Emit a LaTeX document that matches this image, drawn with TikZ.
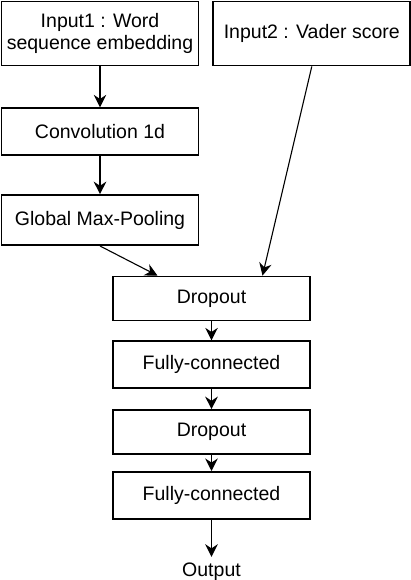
\documentclass[tikz,border=0pt]{standalone}
\usepackage{fontspec}
\setmainfont{Liberation Sans}
\usetikzlibrary{arrows.meta, positioning}

\begin{document}
\begin{tikzpicture}[
    x=1pt, y=1pt,
    node distance=20pt,
    layer/.style={rectangle, draw=black, fill=white, line width=1.8pt, minimum width=197pt, minimum height=47pt, inner sep=0pt, align=center, font=\fontsize{19.5}{22.5}\selectfont},
    label/.style={inner sep=6pt, font=\fontsize{19.5}{22.5}\selectfont},
    arrow/.style={line width=1.8pt, -{Stealth[length=12.5pt, width=12.5pt]}},
    thinarrow/.style={line width=1.1pt, -{Stealth[length=12.5pt, width=12.5pt]}}
]
\useasboundingbox (0,0) rectangle (410,-580);

% Nodes
\node (input1) [layer, minimum height=64pt] at (100,-33.5) {Input1 : Word\\sequence embedding};
\node (input2) [layer, minimum height=64pt, right=13pt of input1] {Input2 : Vader score};
\node (conv) [layer, below=41pt of input1] {Convolution 1d};
\node (pool) [layer, minimum height=50pt, below=38pt of conv] {Global Max-Pooling};

\node (drop1) [layer, minimum height=44pt] at (211.5,-298.5) {Dropout};
\node (fc1) [layer, below=19pt of drop1] {Fully-connected};
\node (drop2) [layer, minimum height=44pt, below=20pt of fc1] {Dropout};
\node (fc2) [layer, below=16pt of drop2] {Fully-connected};
\node (output) [label, below=37pt of fc2] {Output};

% Arrows
\draw [arrow] (input1) -- (conv);
\draw [arrow] (conv) -- (pool);
\draw [thinarrow] (pool.south) -- ([xshift=-54pt]drop1.north);
\draw [thinarrow] (input2.south) -- ([xshift=51pt]drop1.north);

\draw [arrow] (drop1) -- (fc1);
\draw [arrow] (fc1) -- (drop2);
\draw [arrow] (drop2) -- (fc2);
\draw [arrow] (fc2) -- (output);

\end{tikzpicture}
\end{document}
